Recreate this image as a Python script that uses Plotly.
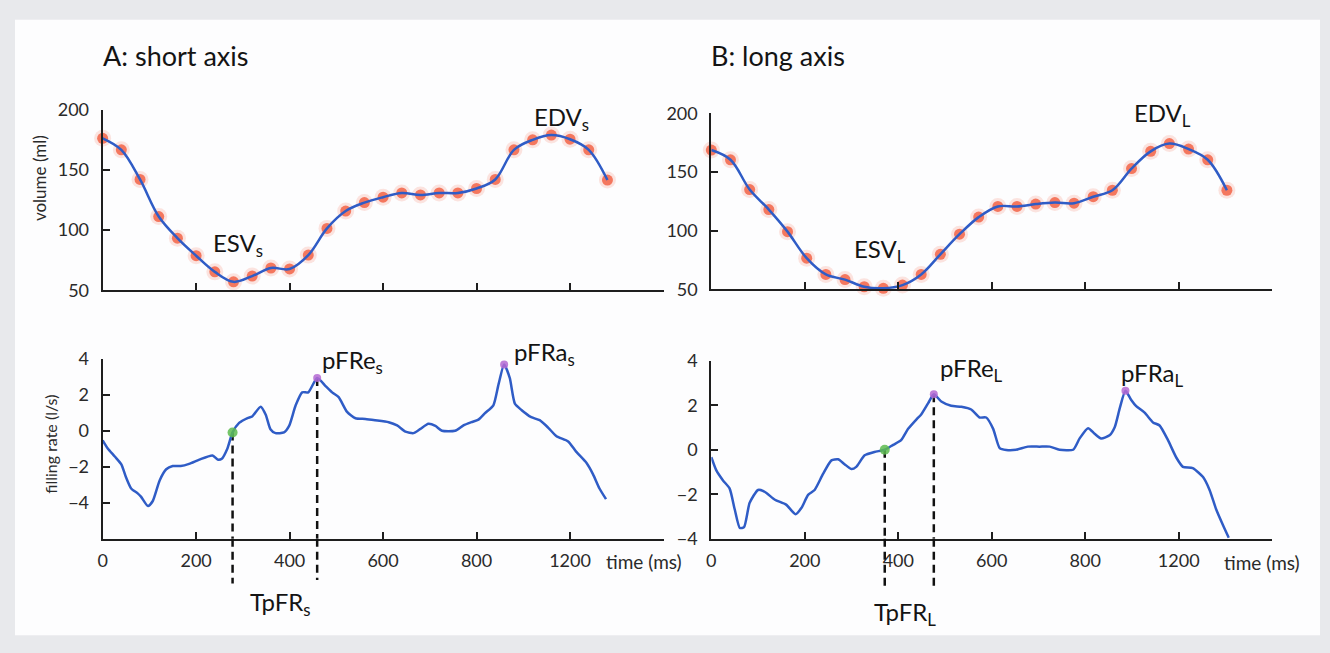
import plotly.graph_objects as go

# ---------------- data ----------------
T_S = [0, 40, 80, 120, 160, 200, 240, 280, 320, 360, 400, 440, 480, 520, 560, 600, 640,
       680, 720, 760, 800, 840, 880, 920, 960, 1000, 1040, 1080]
VOL_S = [176.2, 166.6, 142.0, 111.2, 93.3, 78.7, 65.3, 57.0, 61.8, 68.5, 67.7, 79.2, 101.4,
         115.8, 122.8, 127.3, 130.8, 129.2, 130.8, 130.8, 134.5, 142.0, 166.6, 174.9, 178.9,
         175.4, 166.6, 141.5]

T_L = [0, 41, 82, 123, 163, 204, 245, 286, 327, 368, 409, 449, 490, 531, 572, 613, 654, 694,
       735, 776, 817, 858, 899, 940, 980, 1021, 1062, 1103]
VOL_L = [168.8, 160.5, 135.1, 118.0, 99.2, 76.6, 62.7, 58.3, 52.2, 50.9, 53.6, 62.7, 79.9,
         97.0, 111.6, 120.7, 120.7, 122.7, 124.0, 123.5, 129.0, 134.5, 153.0, 167.7, 174.3,
         169.6, 160.5, 134.5]

FR_T_S = [0, 11, 26, 40, 50, 61, 75, 82, 97, 107, 122, 136, 150, 167, 185, 207, 235, 246, 255,
          267, 278, 292, 310, 320, 338, 349, 359, 370, 388, 399, 413, 427, 440, 459, 477, 491,
          505, 523, 541, 562, 583, 612, 630, 648, 665, 679, 697, 712, 726, 754, 772, 789, 804,
          818, 836, 847, 859, 871, 882, 896, 917, 935, 953, 971, 996, 1013, 1035, 1049, 1063,
          1077]
FR_S = [-0.53, -0.98, -1.43, -1.87, -2.59, -3.21, -3.48, -3.66, -4.19, -3.92, -2.76, -2.14,
        -1.96, -1.96, -1.84, -1.60, -1.37, -1.60, -1.55, -0.98, -0.09, 0.44, 0.71, 0.80, 1.34,
        0.89, 0.09, -0.13, -0.09, 0.27, 1.42, 2.14, 2.14, 2.94, 2.49, 2.14, 1.87, 1.05, 0.70,
        0.66, 0.59, 0.48, 0.30, -0.05, -0.13, 0.09, 0.39, 0.27, 0.00, 0.00, 0.30, 0.48, 0.62,
        0.98, 1.42, 2.58, 3.69, 2.94, 1.51, 1.16, 0.76, 0.59, 0.18, -0.30, -0.59, -1.16, -1.78,
        -2.41, -3.21, -3.80]

FR_T_L = [0, 11, 25, 39, 50, 61, 70, 82, 100, 114, 136, 160, 180, 193, 207, 221, 239, 257, 271,
          285, 300, 310, 328, 349, 371, 389, 406, 421, 439, 449, 464, 476, 492, 513, 535, 556,
          574, 588, 603, 617, 631, 652, 677, 702, 724, 745, 774, 788, 806, 820, 834, 852, 863,
          874, 886, 898, 909, 927, 945, 959, 977, 995, 1009, 1030, 1052, 1066, 1080, 1095, 1107]
FR_L = [-0.33, -0.94, -1.38, -1.74, -2.68, -3.52, -3.48, -2.39, -1.81, -1.89, -2.25, -2.47,
        -2.90, -2.61, -2.03, -1.81, -1.09, -0.48, -0.43, -0.65, -0.87, -0.77, -0.25, -0.10,
        0.00, 0.22, 0.43, 0.94, 1.37, 1.59, 2.10, 2.50, 2.17, 1.98, 1.93, 1.81, 1.45, 1.45,
        0.94, 0.07, -0.01, 0.00, 0.14, 0.14, 0.14, 0.00, 0.00, 0.51, 0.97, 0.72, 0.51, 0.65,
        1.01, 1.88, 2.65, 2.25, 1.96, 1.67, 1.23, 1.09, 0.43, -0.36, -0.77, -0.83, -1.23,
        -1.81, -2.68, -3.41, -3.96]

# events: time-to-peak (green), peak early / atrial filling rate (purple)
TPFR_S_T, TPFR_S_V = 278, -0.09
PFRE_S_T, PFRE_S_V = 459, 2.94
PFRA_S_T, PFRA_S_V = 859, 3.69
TPFR_L_T, TPFR_L_V = 371, 0.00
PFRE_L_T, PFRE_L_V = 476, 2.50
PFRA_L_T, PFRA_L_V = 886, 2.65

X_TICKVALS = [0, 200, 400, 600, 800, 1000, 1200]
X_TICKTEXT = ["0", "200", "400", "600", "800", "1200", ""]
VOL_TICKS = [50, 100, 150, 200]
FR_TICKS = [-4, -2, 0, 2, 4]

# ---------------- style ----------------
W, H = 1330, 653
FONT = "Lato"
BLUE = "#2f5cc6"
RED = "rgba(242,100,72,0.85)"
HALO = "rgba(242,110,85,0.18)"
GREEN = "#5dbb4f"
PURPLE = "#b468d2"
AX = "#1e1e1e"
TXT = "#141414"


def xd(a, b):
    return [a / W, b / W]


def yd(top, bottom):
    return [1 - bottom / H, 1 - top / H]


fig = go.Figure()

# volume curves
for xa, ya, t, v in [("x", "y", T_S, VOL_S), ("x2", "y2", T_L, VOL_L)]:
    fig.add_trace(go.Scatter(x=t, y=v, xaxis=xa, yaxis=ya, mode="markers", cliponaxis=False,
                             marker=dict(size=17, color=HALO, line=dict(width=0)),
                             hoverinfo="skip", showlegend=False))
    fig.add_trace(go.Scatter(x=t, y=v, xaxis=xa, yaxis=ya, mode="markers", cliponaxis=False,
                             marker=dict(size=11, color=RED, line=dict(width=0)),
                             hoverinfo="skip", showlegend=False))
    fig.add_trace(go.Scatter(x=t, y=v, xaxis=xa, yaxis=ya, mode="lines",
                             line=dict(color=BLUE, width=2.5, shape="spline", smoothing=1.0),
                             showlegend=False))

# filling-rate curves with dashed event lines
panels = [
    ("x3", "y3", FR_T_S, FR_S, -6, (TPFR_S_T, TPFR_S_V), (PFRE_S_T, PFRE_S_V), (PFRA_S_T, PFRA_S_V), -0.25, -0.23),
    ("x4", "y4", FR_T_L, FR_L, -4, (TPFR_L_T, TPFR_L_V), (PFRE_L_T, PFRE_L_V), (PFRA_L_T, PFRA_L_V), -0.28, -0.28),
]
for xa, ya, t, v, ymin, tp, pe, pa, ext1, ext2 in panels:
    for (et, ev), ext in [(tp, ext1), (pe, ext2)]:
        fig.add_trace(go.Scatter(x=[et, et], y=[ev, ymin], xaxis=xa, yaxis=ya, mode="lines",
                                 line=dict(color="#111111", width=2.5, dash="8px,5px"),
                                 hoverinfo="skip", showlegend=False))
        fig.add_shape(type="line", xref=xa, yref=ya + " domain", x0=et, x1=et, y0=0, y1=ext,
                      line=dict(color="#111111", width=2.5, dash="8px,5px"))
    fig.add_trace(go.Scatter(x=t, y=v, xaxis=xa, yaxis=ya, mode="lines",
                             line=dict(color=BLUE, width=2.5, shape="spline", smoothing=0.6),
                             showlegend=False))
    fig.add_trace(go.Scatter(x=[tp[0]], y=[tp[1]], xaxis=xa, yaxis=ya, mode="markers",
                             cliponaxis=False, marker=dict(size=10, color=GREEN, opacity=0.85),
                             showlegend=False))
    fig.add_trace(go.Scatter(x=[pe[0], pa[0]], y=[pe[1], pa[1]], xaxis=xa, yaxis=ya,
                             mode="markers", cliponaxis=False,
                             marker=dict(size=8, color=PURPLE, opacity=0.85), showlegend=False))

tickfont = dict(family=FONT, size=18, color="#2a2a2a")
common_x = dict(range=[0, 1200], tickvals=X_TICKVALS, ticktext=X_TICKTEXT, showgrid=False,
                zeroline=False, showline=True, linecolor=AX, linewidth=2, ticks="inside",
                ticklen=7, tickwidth=2, tickcolor=AX, tickfont=tickfont, ticklabelstandoff=5)
common_y = dict(showgrid=False, zeroline=False, showline=True, linecolor=AX, linewidth=2,
                ticks="inside", ticklen=7, tickwidth=2, tickcolor=AX, tickfont=tickfont,
                ticklabelstandoff=8)

layout = dict(
    width=W, height=H, margin=dict(l=0, r=0, t=0, b=0),
    paper_bgcolor="#e8e9ec", plot_bgcolor="rgba(0,0,0,0)",
    font=dict(family=FONT, color=TXT),
    xaxis=dict(common_x, domain=xd(98, 661), anchor="y", showticklabels=False),
    yaxis=dict(common_y, domain=yd(101, 288), anchor="x", range=[50, 200], tickvals=VOL_TICKS),
    xaxis2=dict(common_x, domain=xd(709, 1272), anchor="y2", showticklabels=False),
    yaxis2=dict(common_y, domain=yd(105, 287), anchor="x2", range=[50, 200], tickvals=VOL_TICKS),
    xaxis3=dict(common_x, domain=xd(98, 661), anchor="y3"),
    yaxis3=dict(common_y, domain=yd(359, 545), anchor="x3", range=[-6, 4], tickvals=FR_TICKS),
    xaxis4=dict(common_x, domain=xd(709, 1272), anchor="y4"),
    yaxis4=dict(common_y, domain=yd(361, 545), anchor="x4", range=[-4, 4], tickvals=FR_TICKS),
)
fig.update_layout(**layout)

# white inner panel
fig.add_shape(type="rect", xref="paper", yref="paper", x0=10 / W, x1=1320 / W,
              y0=1 - 645 / H, y1=1 - 8 / H, fillcolor="#fdfdfe", line=dict(width=0), layer="below")

LBL = dict(family=FONT, size=24, color=TXT)
TITLE = dict(family=FONT, size=27, color=TXT)
ann = [
    dict(text="A: short axis", xref="paper", yref="paper", x=96 / W, y=1 - 45 / H, font=TITLE),
    dict(text="B: long axis", xref="paper", yref="paper", x=707 / W, y=1 - 45 / H, font=TITLE),
    dict(text="ESV<sub>s</sub>", xref="x", yref="y", x=232, y=88, font=LBL),
    dict(text="EDV<sub>s</sub>", xref="x", yref="y", x=918, y=193, font=LBL),
    dict(text="ESV<sub>L</sub>", xref="x2", yref="y2", x=302, y=83, font=LBL),
    dict(text="EDV<sub>L</sub>", xref="x2", yref="y2", x=900, y=199, font=LBL),
    dict(text="pFRe<sub>s</sub>", xref="x3", yref="y3 domain", x=466, y=0.985, font=LBL),
    dict(text="pFRa<sub>s</sub>", xref="x3", yref="y3 domain", x=875, y=1.03, font=LBL),
    dict(text="pFRe<sub>L</sub>", xref="x4", yref="y4 domain", x=485, y=0.95, font=LBL),
    dict(text="pFRa<sub>L</sub>", xref="x4", yref="y4 domain", x=873, y=0.925, font=LBL),
    dict(text="TpFR<sub>s</sub>", xref="x3", yref="y3 domain", x=310, y=-0.36, font=LBL),
    dict(text="TpFR<sub>L</sub>", xref="x4", yref="y4 domain", x=344, y=-0.42, font=LBL),
]
for a in ann:
    a.update(showarrow=False, xanchor="left", yanchor="middle")
AXT = dict(family=FONT, size=19, color="#2a2a2a")
ann += [
    dict(text="time (ms)", xref="x3", yref="y3 domain", x=1158, y=-0.125, showarrow=False,
         font=AXT, xanchor="center", yanchor="middle"),
    dict(text="time (ms)", xref="x4", yref="y4 domain", x=1179, y=-0.137, showarrow=False,
         font=AXT, xanchor="center", yanchor="middle"),
    dict(text="volume (ml)", xref="paper", yref="paper", x=34 / W, y=1 - 172 / H, textangle=-90,
         showarrow=False, font=dict(family=FONT, size=17, color="#2a2a2a"),
         xanchor="center", yanchor="middle"),
    dict(text="filling rate (l/s)", xref="paper", yref="paper", x=46 / W, y=1 - 447 / H,
         textangle=-90, showarrow=False, font=dict(family=FONT, size=16, color="#2a2a2a"),
         xanchor="center", yanchor="middle"),
]
fig.update_layout(annotations=ann)

fig.write_html("out.html")
